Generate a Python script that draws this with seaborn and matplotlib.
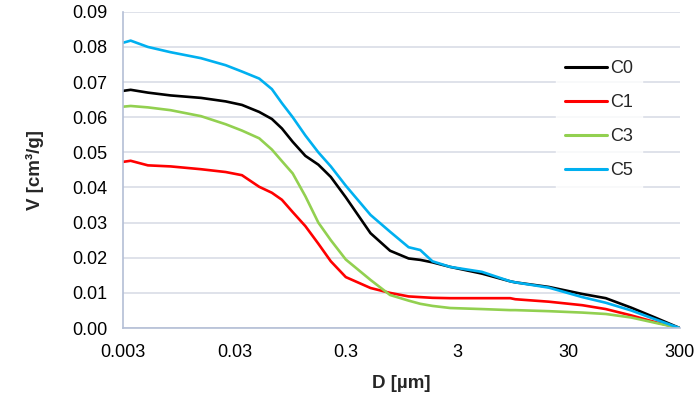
import numpy as np
import pandas as pd
import matplotlib
matplotlib.use('Agg')
import matplotlib.pyplot as plt
import seaborn as sns
from matplotlib.ticker import FixedLocator, FixedFormatter, NullLocator

# pore diameter grid (um)
D = [0.003, 0.0035, 0.005, 0.008, 0.015, 0.025, 0.035, 0.05, 0.065, 0.08, 0.1,
     0.13, 0.17, 0.22, 0.3, 0.5, 0.75, 1.1, 1.4, 1.8, 2.6, 5, 9, 10, 20, 40, 65,
     110, 180, 300]

# cumulative pore volume (cm3/g)
C0 = [0.0675, 0.0678, 0.0670, 0.0662, 0.0655, 0.0645, 0.0635, 0.0615, 0.0595,
      0.0568, 0.0530, 0.0490, 0.0465, 0.0430, 0.0372, 0.0270, 0.0220, 0.0198,
      0.0194, 0.0187, 0.0174, 0.0155, 0.0133, 0.0130, 0.0117, 0.0097, 0.0085,
      0.0058, 0.0030, 0.0]
C1 = [0.0473, 0.0476, 0.0463, 0.0460, 0.0452, 0.0444, 0.0435, 0.0402, 0.0385,
      0.0365, 0.0330, 0.0290, 0.0240, 0.0190, 0.0145, 0.0114, 0.0100, 0.0090,
      0.0088, 0.0086, 0.0085, 0.0085, 0.0085, 0.0082, 0.0075, 0.0065, 0.0054,
      0.0036, 0.0017, 0.0]
C3 = [0.0630, 0.0632, 0.0628, 0.0620, 0.0603, 0.0580, 0.0562, 0.0540, 0.0508,
      0.0475, 0.0440, 0.0375, 0.0300, 0.0250, 0.0195, 0.0137, 0.0094, 0.0078,
      0.0069, 0.0063, 0.0057, 0.0054, 0.0051, 0.0051, 0.0048, 0.0044, 0.0040,
      0.0030, 0.0015, 0.0]
C5 = [0.0812, 0.0818, 0.0800, 0.0785, 0.0768, 0.0748, 0.0730, 0.0710, 0.0680,
      0.0640, 0.0600, 0.0548, 0.0500, 0.0460, 0.0405, 0.0322, 0.0274, 0.0230,
      0.0222, 0.0190, 0.0174, 0.0160, 0.0133, 0.0130, 0.0115, 0.0088, 0.0072,
      0.0050, 0.0025, 0.0]

samples = ['C0', 'C1', 'C3', 'C5']
colors = ['#000000', '#ff0000', '#92d050', '#00b0f0']
xticks = [0.003, 0.03, 0.3, 3, 30, 300]
xticklabels = ['0.003', '0.03', '0.3', '3', '30', '300']

df = pd.concat([pd.DataFrame({'D': D, 'V': v, 'sample': s})
                for s, v in zip(samples, [C0, C1, C3, C5])], ignore_index=True)

sns.set_style('white')
plt.rcParams['font.family'] = ['Liberation Sans', 'DejaVu Sans']

fig = plt.figure(figsize=(7, 4.07), dpi=100)
ax = fig.add_axes([0.176, 0.194, 0.795, 0.777])

sns.lineplot(data=df, x='D', y='V', hue='sample', palette=dict(zip(samples, colors)),
             linewidth=1.9, ax=ax, legend=True)

ax.set_xscale('log')
ax.set_xlim(0.003, 300)
ax.set_ylim(0, 0.09)
ax.xaxis.set_major_locator(FixedLocator(xticks))
ax.xaxis.set_major_formatter(FixedFormatter(xticklabels))
ax.xaxis.set_minor_locator(NullLocator())
ax.set_yticks(np.arange(0, 0.0901, 0.01))
ax.set_yticklabels([f'{t:.2f}' for t in np.arange(0, 0.0901, 0.01)])
ax.tick_params(axis='both', length=0, labelsize=13, colors='#000000', pad=11.5)

ax.grid(axis='y', color='#d9dde6', linewidth=1.2)
ax.set_axisbelow(True)
for side in ['top', 'right']:
    ax.spines[side].set_visible(False)
for side in ['left', 'bottom']:
    ax.spines[side].set_color('#b4bfd6')
    ax.spines[side].set_linewidth(1.2)

ax.set_xlabel('D [µm]', fontsize=13.5, fontweight='bold', labelpad=10)
ax.set_ylabel('V [cm³/g]', fontsize=13.5, fontweight='bold', labelpad=20)

leg = ax.legend(loc='upper right', bbox_to_anchor=(0.948, 0.905), fontsize=13,
                frameon=True, handlelength=2.3, handletextpad=0.15,
                labelspacing=0.95, borderpad=0.5, fancybox=False)
leg.get_frame().set_facecolor('white')
leg.get_frame().set_edgecolor('white')
for line in leg.get_lines():
    line.set_linewidth(2.2)

plt.savefig('out.png', dpi=100)
